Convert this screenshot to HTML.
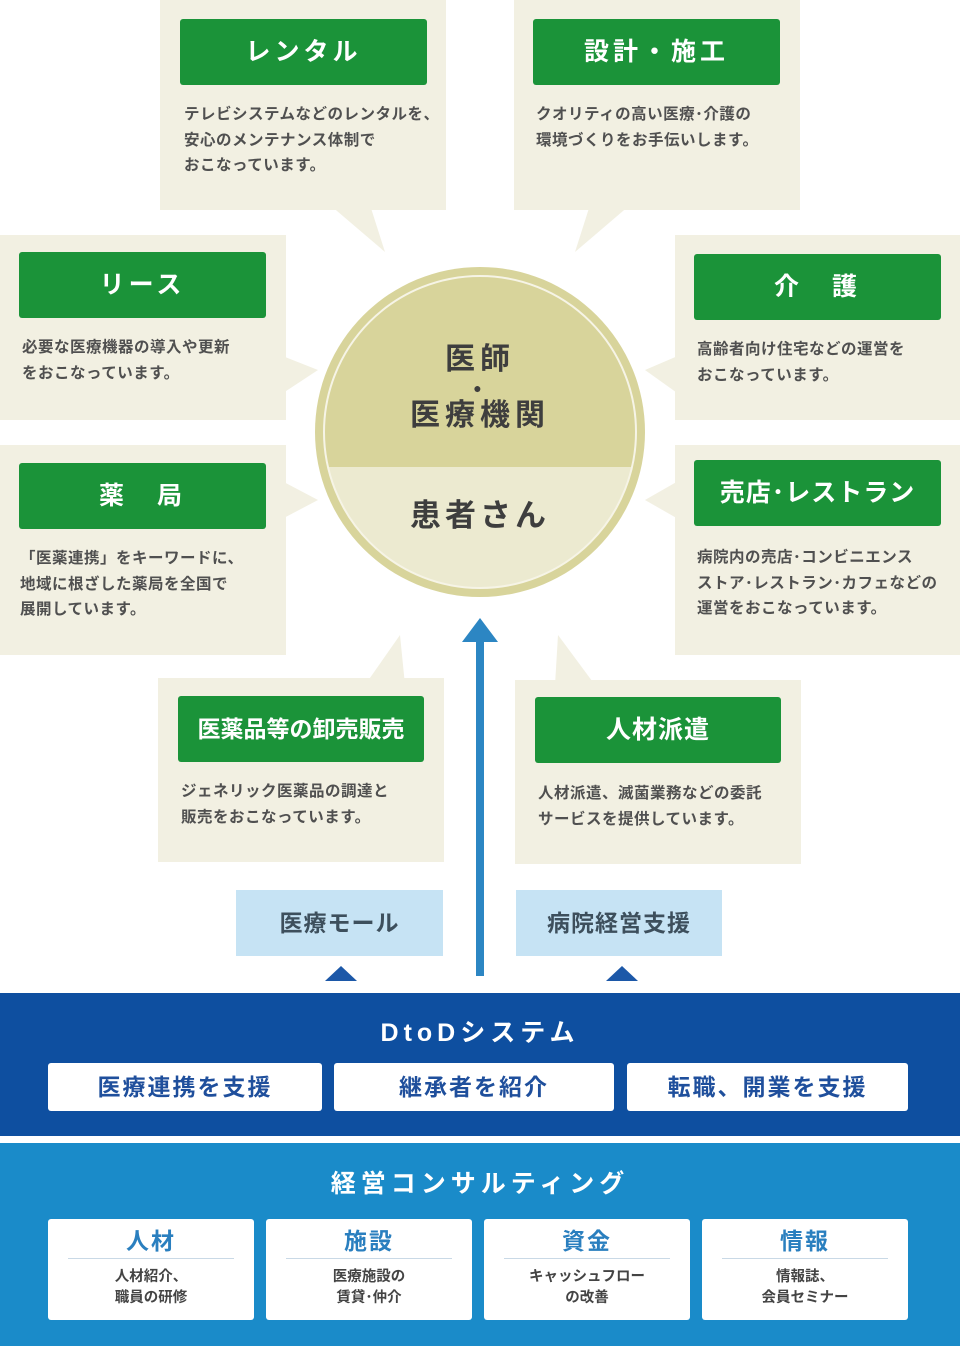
<!DOCTYPE html>
<html><head><meta charset="utf-8">
<style>
*{margin:0;padding:0;box-sizing:border-box}
body{width:960px;height:1346px;background:#fff;position:relative;overflow:hidden;font-family:"Liberation Sans","Noto Sans CJK JP",sans-serif;color:#4a4a4a}
.b{position:absolute;background:#f2f0e2}
.g{position:absolute;background:#1b9339;color:#fff;font-size:25px;font-weight:bold;text-align:center;border-radius:3px;letter-spacing:4px}
.t{position:absolute;font-size:15.5px;line-height:25.5px;color:#505050;font-weight:bold;letter-spacing:0.5px}
.lb{position:absolute;background:#c6e3f4;color:#3d4f5c;font-size:23px;font-weight:bold;text-align:center;line-height:66px;letter-spacing:1px}
.w{position:absolute;background:#fff;border-radius:3px;text-align:center;color:#1f4f9c;font-weight:bold}
.c{position:absolute;background:#fff;border-radius:3px;text-align:center}
.c h4{color:#2a7fbf;font-size:23px;margin:8px 20px 0;padding-bottom:3px;border-bottom:1px solid #c9d9e6;line-height:28px;letter-spacing:2px}
.c p{font-size:14.5px;font-weight:bold;color:#444;line-height:21px;margin-top:8px}
</style></head><body>
<svg width="960" height="1346" style="position:absolute;left:0;top:0">
<g fill="#f2f0e2">
<polygon points="330,205 370,205 385,252"/>
<polygon points="590,205 630,205 575,252"/>
<polygon points="280,355 280,395 318,370"/>
<polygon points="680,355 680,395 645,370"/>
<polygon points="280,480 280,520 318,500"/>
<polygon points="680,480 680,520 645,500"/>
<polygon points="365,685 405,685 400,635"/>
<polygon points="555,685 595,685 558,635"/>
</g>
<circle cx="480" cy="432" r="165" fill="#d8d49b"/>
<clipPath id="cl"><rect x="300" y="467" width="360" height="140"/></clipPath>
<circle cx="480" cy="432" r="156" fill="#ecead0" clip-path="url(#cl)"/>
<circle cx="480" cy="432" r="156" fill="none" stroke="#f6f4e6" stroke-width="2"/>
<rect x="476" y="638" width="8" height="338" fill="#2c86c3"/>
<polygon points="462,642 498,642 480,618" fill="#2c86c3"/>
<polygon points="325,981 357,981 341,966" fill="#1c58a8"/>
<polygon points="606,981 638,981 622,966" fill="#1c58a8"/>
<rect x="0" y="993" width="960" height="143" fill="#0e4fa0"/>
<rect x="0" y="1143" width="960" height="203" fill="#1a8bc9"/>
</svg>

<div class="b" style="left:160px;top:0;width:286px;height:210px"></div>
<div class="g" style="left:180px;top:19px;width:247px;height:66px;line-height:66px">レンタル</div>
<div class="t" style="left:184px;top:102px">テレビシステムなどのレンタルを、<br>安心のメンテナンス体制で<br>おこなっています。</div>

<div class="b" style="left:514px;top:0;width:286px;height:210px"></div>
<div class="g" style="left:533px;top:19px;width:247px;height:66px;line-height:66px">設計・施工</div>
<div class="t" style="left:536px;top:102px">クオリティの高い医療･介護の<br>環境づくりをお手伝いします。</div>

<div class="b" style="left:0;top:235px;width:286px;height:185px"></div>
<div class="g" style="left:19px;top:252px;width:247px;height:66px;line-height:66px">リース</div>
<div class="t" style="left:22px;top:335px">必要な医療機器の導入や更新<br>をおこなっています。</div>

<div class="b" style="left:675px;top:235px;width:285px;height:185px"></div>
<div class="g" style="left:694px;top:254px;width:247px;height:66px;line-height:66px">介　護</div>
<div class="t" style="left:697px;top:337px">高齢者向け住宅などの運営を<br>おこなっています。</div>

<div class="b" style="left:0;top:445px;width:286px;height:210px"></div>
<div class="g" style="left:19px;top:463px;width:247px;height:66px;line-height:66px">薬　局</div>
<div class="t" style="left:20px;top:546px">「医薬連携」をキーワードに、<br>地域に根ざした薬局を全国で<br>展開しています。</div>

<div class="b" style="left:675px;top:445px;width:285px;height:210px"></div>
<div class="g" style="left:694px;top:460px;width:247px;height:66px;line-height:66px;letter-spacing:1px">売店･レストラン</div>
<div class="t" style="left:697px;top:545px">病院内の売店･コンビニエンス<br>ストア･レストラン･カフェなどの<br>運営をおこなっています。</div>

<div class="b" style="left:158px;top:678px;width:286px;height:184px"></div>
<div class="g" style="left:178px;top:696px;width:246px;height:66px;line-height:66px;letter-spacing:0;font-size:23px">医薬品等の卸売販売</div>
<div class="t" style="left:181px;top:779px">ジェネリック医薬品の調達と<br>販売をおこなっています。</div>

<div class="b" style="left:515px;top:680px;width:286px;height:184px"></div>
<div class="g" style="left:535px;top:697px;width:246px;height:66px;line-height:66px;letter-spacing:1px">人材派遣</div>
<div class="t" style="left:538px;top:781px">人材派遣、滅菌業務などの委託<br>サービスを提供しています。</div>

<div style="position:absolute;left:380px;top:340px;width:200px;text-align:center;font-size:30px;font-weight:bold;color:#3e3e3e;letter-spacing:5px;line-height:40px">医師<br><span style="font-size:14px;line-height:16px;display:block">●</span>医療機関</div>
<div style="position:absolute;left:380px;top:490px;width:200px;text-align:center;font-size:31px;font-weight:bold;color:#3e3e3e;letter-spacing:4px">患者さん</div>

<div class="lb" style="left:236px;top:890px;width:207px;height:66px">医療モール</div>
<div class="lb" style="left:516px;top:890px;width:206px;height:66px">病院経営支援</div>

<div style="position:absolute;left:0;top:1013px;width:960px;text-align:center;color:#fff;font-size:25px;font-weight:bold;letter-spacing:5px">DtoDシステム</div>
<div class="w" style="left:48px;top:1063px;width:274px;height:48px;line-height:48px;font-size:23px;letter-spacing:2px">医療連携を支援</div>
<div class="w" style="left:334px;top:1063px;width:280px;height:48px;line-height:48px;font-size:23px;letter-spacing:2px">継承者を紹介</div>
<div class="w" style="left:627px;top:1063px;width:281px;height:48px;line-height:48px;font-size:23px;letter-spacing:2px">転職、開業を支援</div>

<div style="position:absolute;left:0;top:1164px;width:960px;text-align:center;color:#fff;font-size:25px;font-weight:bold;letter-spacing:5px">経営コンサルティング</div>
<div class="c" style="left:48px;top:1219px;width:206px;height:101px"><h4>人材</h4><p>人材紹介、<br>職員の研修</p></div>
<div class="c" style="left:266px;top:1219px;width:206px;height:101px"><h4>施設</h4><p>医療施設の<br>賃貸･仲介</p></div>
<div class="c" style="left:484px;top:1219px;width:206px;height:101px"><h4>資金</h4><p>キャッシュフロー<br>の改善</p></div>
<div class="c" style="left:702px;top:1219px;width:206px;height:101px"><h4>情報</h4><p>情報誌、<br>会員セミナー</p></div>
</body></html>
